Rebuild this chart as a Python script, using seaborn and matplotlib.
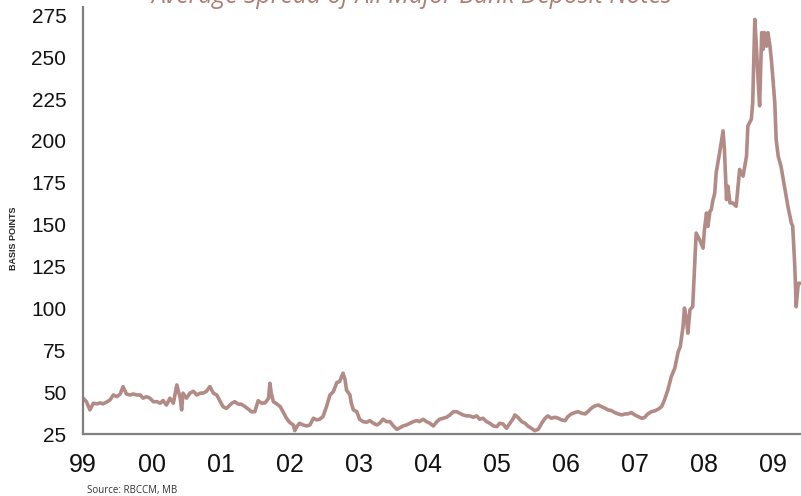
import matplotlib
matplotlib.use("Agg")
import matplotlib.pyplot as plt
import seaborn as sns
import pandas as pd

# Average spread of major bank deposit notes, basis points (decimal year, value)
years = [
    1999.00, 1999.05, 1999.10, 1999.15, 1999.20, 1999.25, 1999.29, 1999.34, 1999.39, 1999.44,
    1999.49, 1999.54, 1999.58, 1999.63, 1999.68, 1999.73, 1999.78, 1999.83, 1999.87, 1999.92,
    1999.97, 2000.02, 2000.07, 2000.12, 2000.16, 2000.21, 2000.26, 2000.31, 2000.36, 2000.38,
    2000.41, 2000.43, 2000.45, 2000.50, 2000.55, 2000.60, 2000.65, 2000.70, 2000.74, 2000.79,
    2000.84, 2000.89, 2000.94, 2000.99, 2001.03, 2001.08, 2001.13, 2001.16, 2001.20, 2001.25,
    2001.30, 2001.35, 2001.40, 2001.44, 2001.49, 2001.54, 2001.59, 2001.64, 2001.69, 2001.71,
    2001.73, 2001.76, 2001.81, 2001.86, 2001.90, 2001.95, 2002.00, 2002.05, 2002.07, 2002.10,
    2002.14, 2002.19, 2002.24, 2002.29, 2002.34, 2002.39, 2002.43, 2002.48, 2002.53, 2002.58,
    2002.63, 2002.68, 2002.72, 2002.75, 2002.77, 2002.80, 2002.82, 2002.87, 2002.89, 2002.92,
    2002.97, 2003.01, 2003.06, 2003.11, 2003.16, 2003.21, 2003.26, 2003.30, 2003.35, 2003.40,
    2003.45, 2003.50, 2003.55, 2003.59, 2003.64, 2003.69, 2003.74, 2003.79, 2003.84, 2003.88,
    2003.93, 2003.98, 2004.03, 2004.08, 2004.13, 2004.17, 2004.22, 2004.27, 2004.32, 2004.37,
    2004.42, 2004.46, 2004.51, 2004.56, 2004.61, 2004.66, 2004.71, 2004.75, 2004.80, 2004.85,
    2004.90, 2004.95, 2005.00, 2005.04, 2005.09, 2005.14, 2005.19, 2005.24, 2005.26, 2005.31,
    2005.36, 2005.41, 2005.45, 2005.50, 2005.55, 2005.60, 2005.65, 2005.70, 2005.74, 2005.79,
    2005.84, 2005.89, 2005.94, 2005.99, 2006.03, 2006.08, 2006.13, 2006.18, 2006.23, 2006.28,
    2006.32, 2006.37, 2006.42, 2006.47, 2006.52, 2006.57, 2006.61, 2006.66, 2006.71, 2006.76,
    2006.81, 2006.86, 2006.90, 2006.95, 2007.00, 2007.05, 2007.10, 2007.14, 2007.19, 2007.24,
    2007.29, 2007.34, 2007.39, 2007.43, 2007.48, 2007.53, 2007.58, 2007.63, 2007.66, 2007.70,
    2007.72, 2007.75, 2007.77, 2007.80, 2007.84, 2007.87, 2007.89, 2007.94, 2007.99, 2008.01,
    2008.04, 2008.06, 2008.09, 2008.11, 2008.13, 2008.16, 2008.18, 2008.23, 2008.28, 2008.30,
    2008.33, 2008.35, 2008.38, 2008.42, 2008.47, 2008.52, 2008.57, 2008.62, 2008.64, 2008.69,
    2008.71, 2008.74, 2008.76, 2008.79, 2008.81, 2008.84, 2008.86, 2008.88, 2008.91, 2008.93,
    2008.96, 2008.98, 2009.00, 2009.03, 2009.05, 2009.08, 2009.12, 2009.17, 2009.22, 2009.27,
    2009.29, 2009.32, 2009.34, 2009.37, 2009.40,
]
spread_bp = [
    46.4, 44.3, 39.4, 43.4, 43.0, 43.6, 43.0, 44.0, 45.3, 48.3,
    47.3, 48.9, 53.3, 48.9, 48.3, 48.9, 48.3, 48.3, 46.4, 47.3,
    46.4, 44.3, 44.3, 43.4, 45.0, 42.3, 46.4, 43.4, 54.3, 51.0,
    46.4, 39.4, 49.4, 46.4, 49.4, 50.5, 48.3, 49.4, 49.4, 50.5,
    53.3, 49.4, 48.3, 44.3, 41.3, 40.3, 42.3, 43.4, 44.3, 42.9,
    42.7, 41.3, 39.8, 38.3, 38.3, 44.9, 43.4, 43.6, 46.3, 55.3,
    49.3, 44.3, 43.0, 41.3, 38.3, 34.4, 31.8, 30.4, 27.0, 29.4,
    31.4, 30.4, 29.8, 30.4, 34.4, 33.4, 33.8, 35.4, 41.3, 48.3,
    50.3, 55.7, 56.3, 59.3, 61.3, 57.3, 51.3, 48.3, 43.4, 39.4,
    38.3, 33.8, 32.4, 32.0, 33.0, 31.4, 30.4, 31.4, 33.8, 32.4,
    32.4, 29.8, 27.8, 28.6, 29.8, 30.4, 31.4, 32.4, 33.0, 32.4,
    33.8, 32.4, 31.4, 29.8, 32.4, 33.8, 34.4, 35.0, 36.4, 38.3,
    38.3, 37.4, 36.4, 35.8, 35.8, 35.0, 35.8, 33.8, 34.4, 32.4,
    31.4, 29.8, 29.4, 31.4, 31.0, 28.4, 31.4, 34.4, 36.4, 34.8,
    32.4, 31.4, 29.8, 28.4, 27.0, 27.8, 31.4, 34.4, 35.8, 34.4,
    35.0, 34.4, 33.4, 33.0, 35.4, 37.0, 37.8, 38.3, 37.4, 37.0,
    38.3, 40.4, 41.7, 42.3, 41.3, 40.4, 39.4, 39.0, 37.8, 37.0,
    36.4, 37.0, 37.0, 37.8, 36.4, 35.4, 34.4, 34.8, 37.0, 38.3,
    38.8, 39.8, 41.4, 45.3, 51.3, 59.3, 64.3, 74.2, 77.2, 89.2,
    100.2, 93.2, 85.2, 99.2, 101.1, 127.0, 145.0, 141.0, 136.0, 147.0,
    157.0, 149.0, 158.0, 159.0, 164.0, 169.0, 181.0, 193.0, 206.0, 195.0,
    165.0, 173.0, 163.0, 163.0, 161.0, 183.0, 179.0, 191.0, 209.0, 213.0,
    223.0, 272.6, 258.7, 234.8, 221.0, 264.7, 254.7, 264.7, 256.6, 264.7,
    256.6, 248.7, 238.7, 222.8, 200.8, 190.8, 184.9, 172.9, 161.0, 151.0,
    149.0, 125.0, 101.0, 115.0, 115.0,
]

year_ticks = [1999, 2000, 2001, 2002, 2003, 2004, 2005, 2006, 2007, 2008, 2009]
year_labels = ["99", "00", "01", "02", "03", "04", "05", "06", "07", "08", "09"]
bp_ticks = [25, 50, 75, 100, 125, 150, 175, 200, 225, 250, 275]

title_text = "Average Spread of All Major Bank Deposit Notes"
y_title = "BASIS POINTS"
source_text = "Source: RBCCM, MB"

LINE = "#b28a86"
TITLE = "#ad7e72"
AXIS = "#808080"

sns.set_theme(style="white")
plt.rcParams["font.family"] = ["Liberation Sans", "DejaVu Sans"]

df = pd.DataFrame({"year": years, "spread": spread_bp})

fig = plt.figure(figsize=(8.01, 4.96), dpi=100)
ax = fig.add_axes([83 / 801, 62 / 496, 718 / 801, 427 / 496])

sns.lineplot(data=df, x="year", y="spread", ax=ax, color=LINE, linewidth=2.6)

ax.set_xlim(1999.0, 2009.41)
ax.set_ylim(25, 280)
ax.set_xticks(year_ticks)
ax.set_xticklabels(year_labels, fontsize=18, color="#111111")
ax.set_yticks(bp_ticks)
ax.set_yticklabels([str(v) for v in bp_ticks], fontsize=15, color="#111111")
ax.set_xlabel("")
ax.set_ylabel("")

for side in ("top", "right"):
    ax.spines[side].set_visible(False)
for side in ("left", "bottom"):
    ax.spines[side].set_color(AXIS)
    ax.spines[side].set_linewidth(1.6)

ax.tick_params(axis="both", direction="out", length=6, width=1.4, color=AXIS)
ax.tick_params(axis="x", pad=8)
ax.tick_params(axis="y", pad=6)

fig.text(412 / 801, 1 - 3 / 496, title_text, ha="center", va="baseline",
         fontsize=17.8, style="italic", color=TITLE, family=["Open Sans", "DejaVu Sans"])
fig.text(14 / 801, 1 - 238 / 496, y_title, rotation=90, ha="center", va="center",
         fontsize=6.5, fontweight="bold", color="#222222")
fig.text(87 / 801, 1 - 490 / 496, source_text, ha="left", va="center",
         fontsize=7, color="#333333", family=["Open Sans", "DejaVu Sans"])

fig.savefig("out.png", dpi=100)
